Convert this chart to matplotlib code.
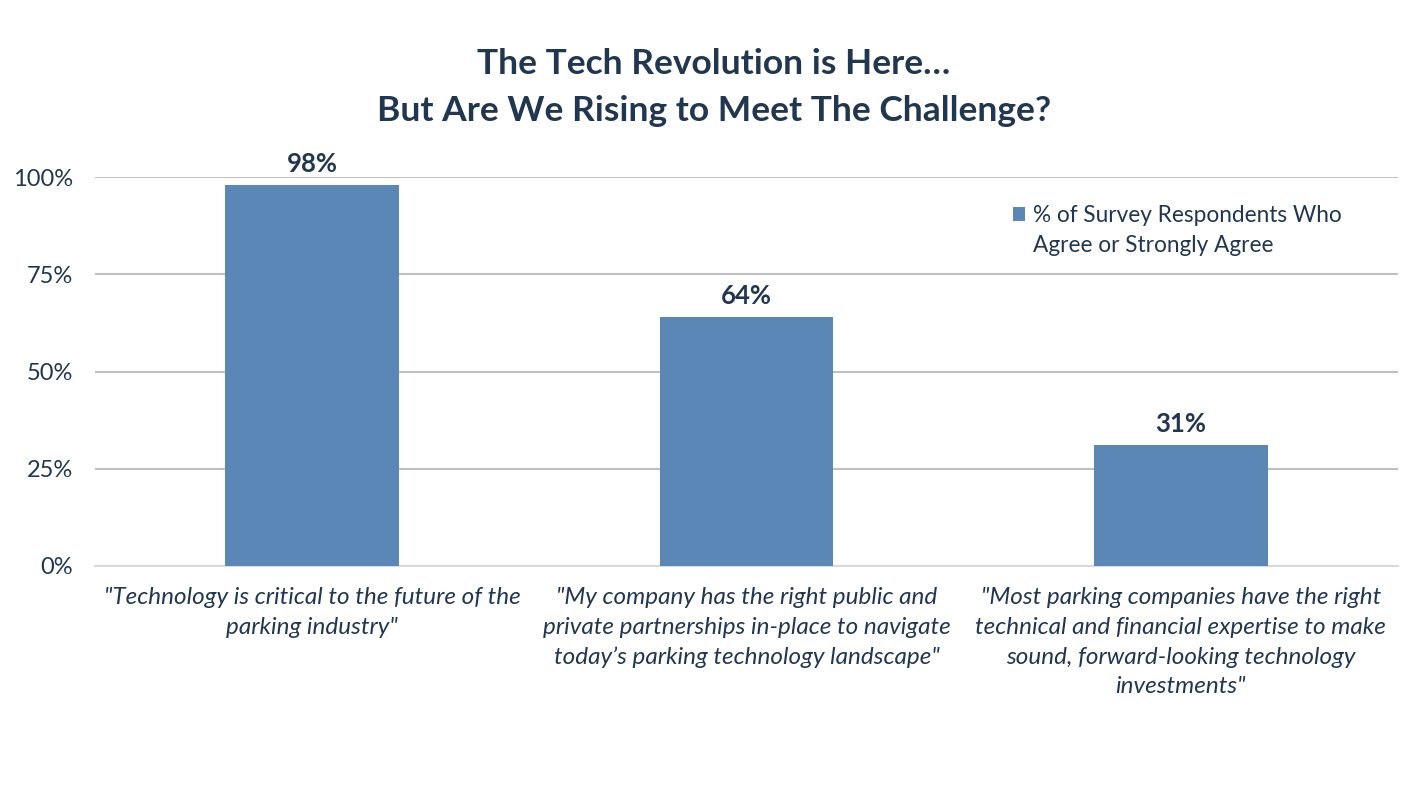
import matplotlib.pyplot as plt
import numpy as np
from matplotlib.patches import Rectangle

CATEGORIES = [
    "\"Technology is critical to the future of the\nparking industry\"",
    "\"My company has the right public and\nprivate partnerships in-place to navigate\ntoday\u2019s parking technology landscape\"",
    "\"Most parking companies have the right\ntechnical and financial expertise to make\nsound, forward-looking technology\ninvestments\"",
]
VALUES = [98, 64, 31]
SERIES_LINES = ["% of Survey Respondents Who", "Agree or Strongly Agree"]
YTICKS = [0, 25, 50, 75, 100]

BAR_COLOR = "#5B87B7"
TEXT_COLOR = "#213750"
GRID_COLOR = "#BFBFBF"

plt.rcParams["font.family"] = ["Lato", "DejaVu Sans"]

fig = plt.figure(figsize=(14.28, 7.86), dpi=100)
ax = fig.add_axes([0.0665, 0.2799, 0.9125, 0.4949])

x = np.arange(len(CATEGORIES))
bars = ax.bar(x, VALUES, width=0.4, color=BAR_COLOR, zorder=3)

for xi, v in zip(x, VALUES):
    ax.text(xi, v + 2.3, f"{v}%", ha="center", va="bottom",
            fontsize=18.5, fontweight="bold", color=TEXT_COLOR)

ax.set_xlim(-0.5, 2.5)
ax.set_ylim(0, 100)
ax.set_yticks(YTICKS)
ax.set_yticklabels([f"{t}%" for t in YTICKS], fontsize=17, color=TEXT_COLOR)
ax.set_xticks(x)
ax.set_xticklabels(CATEGORIES, fontsize=17.5, style="italic", color=TEXT_COLOR,
                   linespacing=1.52, va="top")
ax.tick_params(axis="both", length=0)
ax.tick_params(axis="x", pad=15)
ax.tick_params(axis="y", pad=16)

ax.grid(axis="y", color=GRID_COLOR, linewidth=1.5, zorder=0)
for name, spine in ax.spines.items():
    spine.set_visible(False)
ax.spines["bottom"].set_visible(True)
ax.spines["bottom"].set_color("#D9D9D9")
ax.spines["bottom"].set_linewidth(1.5)

fig.text(0.5, 0.889, "The Tech Revolution is Here\u2026\nBut Are We Rising to Meet The Challenge?",
         ha="center", va="center", fontsize=25.5, fontweight="bold",
         color=TEXT_COLOR, linespacing=1.57)

# legend: one real entry, second line of the label as an entry without a handle
blank = Rectangle((0, 0), 1, 1, fill=False, edgecolor="none")
leg = ax.legend([bars, blank], SERIES_LINES, loc="upper left",
                bbox_to_anchor=(0.703, 0.751),
                bbox_transform=fig.transFigure, frameon=False,
                fontsize=16.3, handlelength=0.55, handleheight=0.55,
                handletextpad=0.35, labelspacing=0.4, borderaxespad=0)
for t in leg.get_texts():
    t.set_color(TEXT_COLOR)

fig.savefig("out.png", dpi=100)
